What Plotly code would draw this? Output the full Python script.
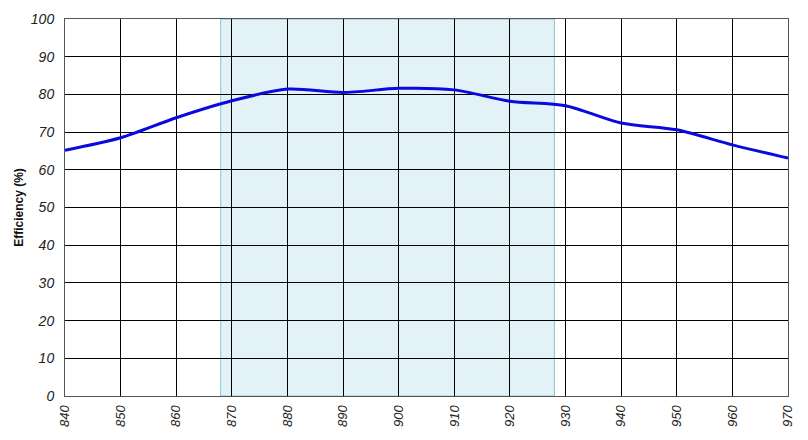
import plotly.graph_objects as go

wavelength = [840, 850, 860, 870, 880, 890, 900, 910, 920, 930, 940, 950, 960, 970]
efficiency = [65.2, 68.5, 73.8, 78.3, 81.4, 80.5, 81.6, 81.2, 78.2, 77.0, 72.4, 70.6, 66.6, 63.1]
band_start = 868
band_end = 928
x_ticks = list(range(840, 971, 10))
y_ticks = list(range(0, 101, 10))

fig = go.Figure()
fig.add_trace(go.Scatter(
    x=wavelength, y=efficiency, mode="lines",
    line=dict(color="#0a0ae0", width=3, shape="spline", smoothing=0.8),
    showlegend=False, hoverinfo="skip",
))
fig.add_shape(type="rect", xref="x", yref="y", x0=band_start, x1=band_end, y0=0, y1=100,
              fillcolor="#e3f2f7", line=dict(color="#8cc3d4", width=1), layer="below")

fig.update_layout(
    width=808, height=440,
    margin=dict(l=57, r=28, t=11, b=52),
    paper_bgcolor="white", plot_bgcolor="white",
    font=dict(family="Liberation Sans, Arial, sans-serif", color="#222"),
)
fig.update_xaxes(
    range=[840, 970], tickvals=x_ticks, ticktext=[f"<i>{v}</i>" for v in x_ticks],
    tickangle=-90, tickfont=dict(size=13), showgrid=True, gridcolor="black", gridwidth=1,
    showline=True, linecolor="#555", linewidth=1, mirror=True, zeroline=False,
    ticks="outside", ticklen=3, tickcolor="rgba(0,0,0,0)",
    automargin=False,
)
fig.update_yaxes(
    range=[0, 100], tickvals=y_ticks, ticktext=[f"<i>{v}</i>" for v in y_ticks],
    tickfont=dict(size=14), showgrid=True, gridcolor="black", gridwidth=1,
    showline=True, linecolor="#555", linewidth=1, mirror=True, zeroline=False,
    ticks="outside", ticklen=7, tickcolor="rgba(0,0,0,0)",
    title=dict(text="<b>Efficiency (%)</b>", font=dict(size=12, color="#111"), standoff=4),
    automargin=False,
)
fig.write_html("out.html")
